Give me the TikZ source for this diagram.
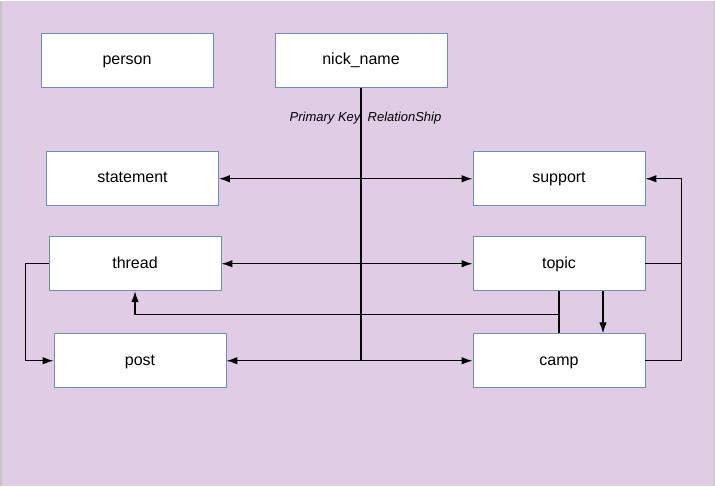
\documentclass[tikz,border=0pt]{standalone}
\usepackage{fontspec}
\setmainfont{Liberation Sans}
\usetikzlibrary{arrows.meta,positioning,calc}
\definecolor{bgpurple}{RGB}{224,204,228}
\definecolor{boxline}{RGB}{108,142,191}
\tikzset{%
  entity/.style={draw=boxline,fill=white,line width=0.9pt,minimum width=172pt,minimum height=54pt,inner sep=0pt,text height=12pt,text depth=3.5pt,font=\fontsize{16}{19}\selectfont},
  link/.style={line width=1.2pt,black},
  arr/.style={-{Latex[length=11pt,width=7.5pt]}},
  both/.style={{Latex[length=11pt,width=7.5pt]}-{Latex[length=11pt,width=7.5pt]}},
}
\begin{document}
\begin{tikzpicture}[x=1pt,y=-1pt]
  \fill[bgpurple] (0,0) rectangle (715,485);
  \draw[gray!45,line width=1.5pt] (0.75,0) -- (0.75,485) (714.25,0) -- (714.25,485);
  % tables
  \node[entity] (person) at (127,59.5) {person};
  \node[entity] (nick) at (361,59.5) {nick\_name};
  \node[entity] (statement) at (132.5,178) {statement};
  \node[entity] (support) at (559,178) {support};
  \node[entity] (thread) at (135,263) {thread};
  \node[entity] (topic) at (559,263) {topic};
  \node[entity] (post) at (140,360) {post};
  \node[entity] (camp) at (559,360) {camp};
  \node[font=\fontsize{13}{15}\selectfont\itshape] (pk) at (365.5,117) {Primary Key\ \ RelationShip};
  % links
  \coordinate (spine) at (nick |- post);
  \coordinate (split) at (559,314);
  \draw[link] (nick.south) -- (spine);
  \draw[link,both] (statement) -- (support);
  \draw[link,both] (thread) -- (topic);
  \draw[link,both] (post) -- (camp);
  \draw[link,arr] (camp.east) -- ++(36,0) |- (support.east);
  \draw[link] (topic.east) -- ++(36,0);
  \draw[link,arr] ([xshift=44pt]topic.south) -- ([xshift=44pt]camp.north);
  \draw[link] (topic.south) -- (camp.north);
  \draw[link,arr] (split) -| (thread.south);
  \draw[link,arr] (thread.west) -- ++(-23,0) |- (post.west);
\end{tikzpicture}
\end{document}
